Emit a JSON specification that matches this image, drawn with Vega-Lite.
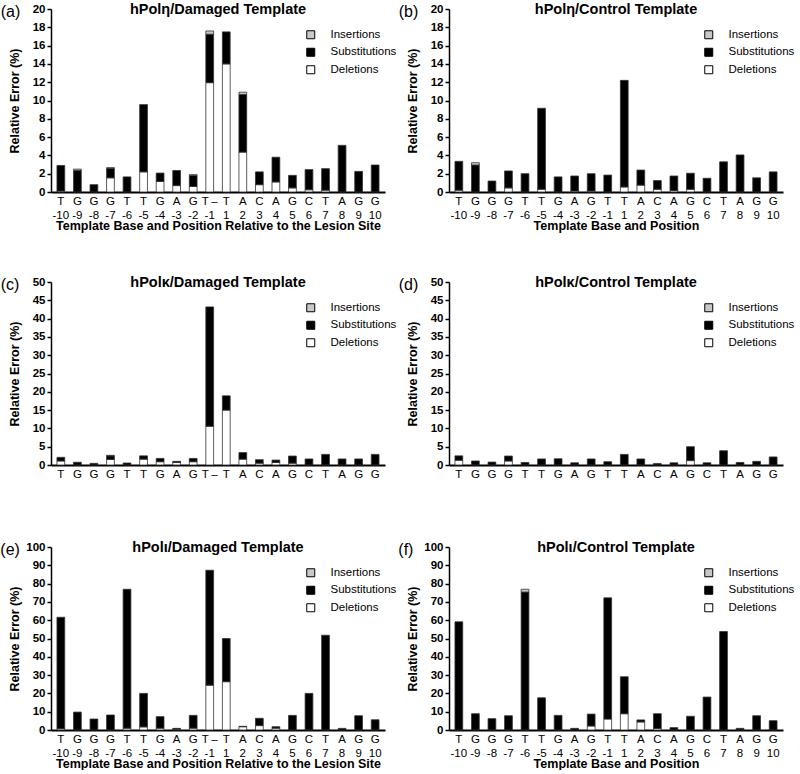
{
  "$schema": "https://vega.github.io/schema/vega-lite/v6.json",
  "padding": {"left": 0, "top": 1, "right": 0, "bottom": 0},
  "background": "white",
  "config": {
    "font": "Liberation Sans",
    "view": {"stroke": null},
    "axis": {"domainColor": "black", "tickColor": "black", "labelColor": "black", "titleColor": "black", "grid": false},
    "axisX": {"ticks": false, "domainWidth": 2, "labelAngle": 0, "labelFontSize": 11.5, "labelLineHeight": 14, "labelPadding": 3, "titleFontSize": 12.5, "titleFontWeight": "bold", "titlePadding": -1},
    "axisY": {"tickSize": 4, "tickWidth": 1.5, "domainWidth": 1.5, "labelFontSize": 11.5, "labelFontWeight": "bold", "labelPadding": 2, "titleFontSize": 12.5, "titleFontWeight": "bold"},
    "legend": {"orient": "none", "legendX": 254, "legendY": 20, "symbolType": "square", "symbolSize": 64, "symbolStrokeColor": "black", "symbolStrokeWidth": 1, "labelFontSize": 11.5, "labelColor": "black", "labelOffset": 14, "rowPadding": 4.5},
    "title": {"fontSize": 14.5, "fontWeight": "bold", "color": "black"}
  },
  "datasets": {
    "a": [
      {"site": "T -10", "Deletions": 0.1, "Substitutions": 2.8, "Insertions": 0},
      {"site": "G -9", "Deletions": 0, "Substitutions": 2.35, "Insertions": 0.15},
      {"site": "G -8", "Deletions": 0, "Substitutions": 0.8, "Insertions": 0},
      {"site": "G -7", "Deletions": 1.55, "Substitutions": 1.05, "Insertions": 0.05},
      {"site": "T -6", "Deletions": 0, "Substitutions": 1.65, "Insertions": 0},
      {"site": "T -5", "Deletions": 2.2, "Substitutions": 7.35, "Insertions": 0},
      {"site": "G -4", "Deletions": 1.15, "Substitutions": 0.92, "Insertions": 0},
      {"site": "A -3", "Deletions": 0.7, "Substitutions": 1.65, "Insertions": 0},
      {"site": "G -2", "Deletions": 0.6, "Substitutions": 1.2, "Insertions": 0.1},
      {"site": "T -1", "Deletions": 11.95, "Substitutions": 5.3, "Insertions": 0.35},
      {"site": "T 1", "Deletions": 14.0, "Substitutions": 3.5, "Insertions": 0},
      {"site": "A 2", "Deletions": 4.36, "Substitutions": 6.3, "Insertions": 0.25},
      {"site": "C 3", "Deletions": 0.8, "Substitutions": 1.4, "Insertions": 0},
      {"site": "A 4", "Deletions": 1.1, "Substitutions": 2.7, "Insertions": 0},
      {"site": "G 5", "Deletions": 0.45, "Substitutions": 1.37, "Insertions": 0},
      {"site": "C 6", "Deletions": 0.25, "Substitutions": 2.2, "Insertions": 0},
      {"site": "T 7", "Deletions": 0.2, "Substitutions": 2.35, "Insertions": 0},
      {"site": "A 8", "Deletions": 0, "Substitutions": 5.1, "Insertions": 0},
      {"site": "G 9", "Deletions": 0, "Substitutions": 2.25, "Insertions": 0},
      {"site": "G 10", "Deletions": 0, "Substitutions": 2.95, "Insertions": 0}
    ],
    "b": [
      {"site": "T -10", "Deletions": 0.2, "Substitutions": 3.15, "Insertions": 0},
      {"site": "G -9", "Deletions": 0, "Substitutions": 2.95, "Insertions": 0.25},
      {"site": "G -8", "Deletions": 0, "Substitutions": 1.2, "Insertions": 0},
      {"site": "G -7", "Deletions": 0.45, "Substitutions": 1.85, "Insertions": 0},
      {"site": "T -6", "Deletions": 0, "Substitutions": 2.0, "Insertions": 0},
      {"site": "T -5", "Deletions": 0.3, "Substitutions": 8.85, "Insertions": 0},
      {"site": "G -4", "Deletions": 0, "Substitutions": 1.65, "Insertions": 0},
      {"site": "A -3", "Deletions": 0.1, "Substitutions": 1.65, "Insertions": 0},
      {"site": "G -2", "Deletions": 0.1, "Substitutions": 1.9, "Insertions": 0},
      {"site": "T -1", "Deletions": 0, "Substitutions": 1.85, "Insertions": 0},
      {"site": "T 1", "Deletions": 0.55, "Substitutions": 11.65, "Insertions": 0},
      {"site": "A 2", "Deletions": 0.75, "Substitutions": 1.65, "Insertions": 0},
      {"site": "C 3", "Deletions": 0.3, "Substitutions": 0.95, "Insertions": 0},
      {"site": "A 4", "Deletions": 0.15, "Substitutions": 1.6, "Insertions": 0},
      {"site": "G 5", "Deletions": 0.3, "Substitutions": 1.75, "Insertions": 0},
      {"site": "C 6", "Deletions": 0, "Substitutions": 1.5, "Insertions": 0},
      {"site": "T 7", "Deletions": 0, "Substitutions": 3.3, "Insertions": 0},
      {"site": "A 8", "Deletions": 0, "Substitutions": 4.05, "Insertions": 0},
      {"site": "G 9", "Deletions": 0, "Substitutions": 1.55, "Insertions": 0},
      {"site": "G 10", "Deletions": 0, "Substitutions": 2.2, "Insertions": 0}
    ],
    "c": [
      {"site": "T -10", "Deletions": 1.1, "Substitutions": 1.0, "Insertions": 0},
      {"site": "G -9", "Deletions": 0, "Substitutions": 0.75, "Insertions": 0},
      {"site": "G -8", "Deletions": 0, "Substitutions": 0.45, "Insertions": 0},
      {"site": "G -7", "Deletions": 1.5, "Substitutions": 1.0, "Insertions": 0.15},
      {"site": "T -6", "Deletions": 0, "Substitutions": 0.55, "Insertions": 0},
      {"site": "T -5", "Deletions": 1.6, "Substitutions": 0.9, "Insertions": 0},
      {"site": "G -4", "Deletions": 0.9, "Substitutions": 0.9, "Insertions": 0},
      {"site": "A -3", "Deletions": 0.7, "Substitutions": 0.3, "Insertions": 0},
      {"site": "G -2", "Deletions": 0.9, "Substitutions": 0.9, "Insertions": 0},
      {"site": "T -1", "Deletions": 10.6, "Substitutions": 32.6, "Insertions": 0},
      {"site": "T 1", "Deletions": 15.0, "Substitutions": 3.9, "Insertions": 0},
      {"site": "A 2", "Deletions": 1.6, "Substitutions": 1.8, "Insertions": 0},
      {"site": "C 3", "Deletions": 0.5, "Substitutions": 0.95, "Insertions": 0},
      {"site": "A 4", "Deletions": 0.7, "Substitutions": 0.65, "Insertions": 0},
      {"site": "G 5", "Deletions": 0.5, "Substitutions": 1.95, "Insertions": 0},
      {"site": "C 6", "Deletions": 0, "Substitutions": 1.65, "Insertions": 0},
      {"site": "T 7", "Deletions": 0, "Substitutions": 2.9, "Insertions": 0},
      {"site": "A 8", "Deletions": 0, "Substitutions": 1.65, "Insertions": 0},
      {"site": "G 9", "Deletions": 0, "Substitutions": 1.65, "Insertions": 0},
      {"site": "G 10", "Deletions": 0, "Substitutions": 2.9, "Insertions": 0}
    ],
    "d": [
      {"site": "T -10", "Deletions": 1.3, "Substitutions": 1.2, "Insertions": 0},
      {"site": "G -9", "Deletions": 0, "Substitutions": 1.1, "Insertions": 0},
      {"site": "G -8", "Deletions": 0, "Substitutions": 0.8, "Insertions": 0},
      {"site": "G -7", "Deletions": 1.1, "Substitutions": 1.35, "Insertions": 0},
      {"site": "T -6", "Deletions": 0, "Substitutions": 0.7, "Insertions": 0},
      {"site": "T -5", "Deletions": 0, "Substitutions": 1.65, "Insertions": 0},
      {"site": "G -4", "Deletions": 0, "Substitutions": 1.7, "Insertions": 0},
      {"site": "A -3", "Deletions": 0, "Substitutions": 0.6, "Insertions": 0},
      {"site": "G -2", "Deletions": 0, "Substitutions": 1.65, "Insertions": 0},
      {"site": "T -1", "Deletions": 0, "Substitutions": 0.9, "Insertions": 0},
      {"site": "T 1", "Deletions": 0, "Substitutions": 2.9, "Insertions": 0},
      {"site": "A 2", "Deletions": 0, "Substitutions": 1.65, "Insertions": 0},
      {"site": "C 3", "Deletions": 0, "Substitutions": 0.4, "Insertions": 0},
      {"site": "A 4", "Deletions": 0, "Substitutions": 0.6, "Insertions": 0},
      {"site": "G 5", "Deletions": 1.2, "Substitutions": 3.8, "Insertions": 0},
      {"site": "C 6", "Deletions": 0, "Substitutions": 0.6, "Insertions": 0},
      {"site": "T 7", "Deletions": 0, "Substitutions": 3.9, "Insertions": 0},
      {"site": "A 8", "Deletions": 0, "Substitutions": 0.7, "Insertions": 0},
      {"site": "G 9", "Deletions": 0, "Substitutions": 1.0, "Insertions": 0},
      {"site": "G 10", "Deletions": 0, "Substitutions": 2.2, "Insertions": 0}
    ],
    "e": [
      {"site": "T -10", "Deletions": 0.7, "Substitutions": 60.9, "Insertions": 0},
      {"site": "G -9", "Deletions": 0, "Substitutions": 9.8, "Insertions": 0},
      {"site": "G -8", "Deletions": 0, "Substitutions": 6.0, "Insertions": 0},
      {"site": "G -7", "Deletions": 0, "Substitutions": 8.2, "Insertions": 0},
      {"site": "T -6", "Deletions": 1.0, "Substitutions": 75.9, "Insertions": 0},
      {"site": "T -5", "Deletions": 1.7, "Substitutions": 18.3, "Insertions": 0},
      {"site": "G -4", "Deletions": 1.0, "Substitutions": 6.3, "Insertions": 0},
      {"site": "A -3", "Deletions": 0.4, "Substitutions": 0.5, "Insertions": 0},
      {"site": "G -2", "Deletions": 1.0, "Substitutions": 7.0, "Insertions": 0},
      {"site": "T -1", "Deletions": 24.5, "Substitutions": 62.8, "Insertions": 0},
      {"site": "T 1", "Deletions": 26.4, "Substitutions": 23.6, "Insertions": 0},
      {"site": "A 2", "Deletions": 1.8, "Substitutions": 0.2, "Insertions": 0},
      {"site": "C 3", "Deletions": 2.4, "Substitutions": 4.0, "Insertions": 0},
      {"site": "A 4", "Deletions": 1.0, "Substitutions": 0.8, "Insertions": 0},
      {"site": "G 5", "Deletions": 0, "Substitutions": 8.0, "Insertions": 0},
      {"site": "C 6", "Deletions": 0, "Substitutions": 20.0, "Insertions": 0},
      {"site": "T 7", "Deletions": 0, "Substitutions": 51.8, "Insertions": 0},
      {"site": "A 8", "Deletions": 0, "Substitutions": 0.9, "Insertions": 0},
      {"site": "G 9", "Deletions": 0, "Substitutions": 7.8, "Insertions": 0},
      {"site": "G 10", "Deletions": 0, "Substitutions": 5.6, "Insertions": 0}
    ],
    "f": [
      {"site": "T -10", "Deletions": 0, "Substitutions": 59.1, "Insertions": 0},
      {"site": "G -9", "Deletions": 0, "Substitutions": 8.9, "Insertions": 0},
      {"site": "G -8", "Deletions": 0, "Substitutions": 6.2, "Insertions": 0},
      {"site": "G -7", "Deletions": 0, "Substitutions": 7.8, "Insertions": 0},
      {"site": "T -6", "Deletions": 0, "Substitutions": 75.4, "Insertions": 1.5},
      {"site": "T -5", "Deletions": 0, "Substitutions": 17.6, "Insertions": 0},
      {"site": "G -4", "Deletions": 0, "Substitutions": 8.0, "Insertions": 0},
      {"site": "A -3", "Deletions": 0, "Substitutions": 0.9, "Insertions": 0},
      {"site": "G -2", "Deletions": 2.2, "Substitutions": 6.5, "Insertions": 0},
      {"site": "T -1", "Deletions": 6.0, "Substitutions": 66.2, "Insertions": 0},
      {"site": "T 1", "Deletions": 8.9, "Substitutions": 20.2, "Insertions": 0},
      {"site": "A 2", "Deletions": 4.4, "Substitutions": 1.1, "Insertions": 0},
      {"site": "C 3", "Deletions": 0.8, "Substitutions": 8.1, "Insertions": 0},
      {"site": "A 4", "Deletions": 0, "Substitutions": 1.3, "Insertions": 0},
      {"site": "G 5", "Deletions": 0, "Substitutions": 7.5, "Insertions": 0},
      {"site": "C 6", "Deletions": 0, "Substitutions": 18.0, "Insertions": 0},
      {"site": "T 7", "Deletions": 0, "Substitutions": 53.8, "Insertions": 0},
      {"site": "A 8", "Deletions": 0, "Substitutions": 0.9, "Insertions": 0},
      {"site": "G 9", "Deletions": 0, "Substitutions": 7.8, "Insertions": 0},
      {"site": "G 10", "Deletions": 0, "Substitutions": 5.1, "Insertions": 0}
    ]
  },
  "spacing": 42,
  "resolve": {"scale": {"color": "independent"}, "legend": {"color": "independent"}},
  "vconcat": [
    {
      "spacing": 1,
      "resolve": {"scale": {"color": "independent"}, "legend": {"color": "independent"}},
      "hconcat": [
        {
          "title": {"text": "(a)", "anchor": "start", "frame": "bounds", "offset": -18, "dx": -8, "fontSize": 16, "fontWeight": "normal"},
          "resolve": {"scale": {"color": "independent"}, "legend": {"color": "independent"}},
          "vconcat": [{
            "data": {"name": "a"},
            "width": 334, "height": 183,
            "title": {"text": "hPolη/Damaged Template", "anchor": "middle", "frame": "group", "offset": -14},
            "transform": [
              {"fold": ["Deletions", "Substitutions", "Insertions"], "as": ["type", "value"]},
              {"filter": "datum.value > 0"},
              {"calculate": "indexof(['Deletions','Substitutions','Insertions'], datum.type)", "as": "ord"}
            ],
            "mark": {"type": "bar", "stroke": "#333", "strokeWidth": 0.8},
            "encoding": {
              "x": {"field": "site", "type": "nominal", "sort": null, "scale": {"paddingInner": 0.53, "paddingOuter": 0.36},
                    "axis": {"title": "Template Base and Position Relative to the Lesion Site", "labelExpr": "datum.value == 'T -1' ? ['\u2002\u2009T\u2009\u2013', '-1'] : split(datum.value, ' ')"}},
              "y": {"field": "value", "type": "quantitative", "stack": "zero", "scale": {"domain": [0, 20], "nice": false},
                    "axis": {"title": "Relative Error (%)", "titlePadding": 10.5, "values": [0, 2, 4, 6, 8, 10, 12, 14, 16, 18, 20]}},
              "color": {"field": "type", "type": "nominal", "scale": {"domain": ["Insertions", "Substitutions", "Deletions"], "range": ["#c8c8c8", "black", "white"]}, "legend": {"title": null}},
              "order": {"field": "ord", "type": "quantitative"}
            }
          }]
        },
        {
          "title": {"text": "(b)", "anchor": "start", "frame": "bounds", "offset": -18, "dx": -8, "fontSize": 16, "fontWeight": "normal"},
          "resolve": {"scale": {"color": "independent"}, "legend": {"color": "independent"}},
          "vconcat": [{
            "data": {"name": "b"},
            "width": 334, "height": 183,
            "title": {"text": "hPolη/Control Template", "anchor": "middle", "frame": "group", "offset": -14},
            "transform": [
              {"fold": ["Deletions", "Substitutions", "Insertions"], "as": ["type", "value"]},
              {"filter": "datum.value > 0"},
              {"calculate": "indexof(['Deletions','Substitutions','Insertions'], datum.type)", "as": "ord"}
            ],
            "mark": {"type": "bar", "stroke": "#333", "strokeWidth": 0.8},
            "encoding": {
              "x": {"field": "site", "type": "nominal", "sort": null, "scale": {"paddingInner": 0.53, "paddingOuter": 0.36},
                    "axis": {"title": "Template Base and Position", "labelExpr": "split(datum.value, ' ')"}},
              "y": {"field": "value", "type": "quantitative", "stack": "zero", "scale": {"domain": [0, 20], "nice": false},
                    "axis": {"title": "Relative Error (%)", "titlePadding": 10.5, "values": [0, 2, 4, 6, 8, 10, 12, 14, 16, 18, 20]}},
              "color": {"field": "type", "type": "nominal", "scale": {"domain": ["Insertions", "Substitutions", "Deletions"], "range": ["#c8c8c8", "black", "white"]}, "legend": {"title": null}},
              "order": {"field": "ord", "type": "quantitative"}
            }
          }]
        }
      ]
    },
    {
      "spacing": 59,
      "resolve": {"scale": {"color": "independent"}, "legend": {"color": "independent"}},
      "vconcat": [
        {
          "spacing": 1,
          "resolve": {"scale": {"color": "independent"}, "legend": {"color": "independent"}},
          "hconcat": [
            {
              "title": {"text": "(c)", "anchor": "start", "frame": "bounds", "offset": -18, "dx": -8, "fontSize": 16, "fontWeight": "normal"},
              "resolve": {"scale": {"color": "independent"}, "legend": {"color": "independent"}},
              "vconcat": [{
                "data": {"name": "c"},
                "width": 334, "height": 183,
                "title": {"text": "hPolκ/Damaged Template", "anchor": "middle", "frame": "group", "offset": -14},
                "transform": [
                  {"fold": ["Deletions", "Substitutions", "Insertions"], "as": ["type", "value"]},
                  {"filter": "datum.value > 0"},
                  {"calculate": "indexof(['Deletions','Substitutions','Insertions'], datum.type)", "as": "ord"}
                ],
                "mark": {"type": "bar", "stroke": "#333", "strokeWidth": 0.8},
                "encoding": {
                  "x": {"field": "site", "type": "nominal", "sort": null, "scale": {"paddingInner": 0.53, "paddingOuter": 0.36},
                        "axis": {"title": null, "labelExpr": "datum.value == 'T -1' ? '\u2002\u2009T\u2009\u2013' : split(datum.value, ' ')[0]"}},
                  "y": {"field": "value", "type": "quantitative", "stack": "zero", "scale": {"domain": [0, 50], "nice": false},
                        "axis": {"title": "Relative Error (%)", "titlePadding": 10.5, "values": [0, 5, 10, 15, 20, 25, 30, 35, 40, 45, 50]}},
                  "color": {"field": "type", "type": "nominal", "scale": {"domain": ["Insertions", "Substitutions", "Deletions"], "range": ["#c8c8c8", "black", "white"]}, "legend": {"title": null}},
                  "order": {"field": "ord", "type": "quantitative"}
                }
              }]
            },
            {
              "title": {"text": "(d)", "anchor": "start", "frame": "bounds", "offset": -18, "dx": -8, "fontSize": 16, "fontWeight": "normal"},
              "resolve": {"scale": {"color": "independent"}, "legend": {"color": "independent"}},
              "vconcat": [{
                "data": {"name": "d"},
                "width": 334, "height": 183,
                "title": {"text": "hPolκ/Control Template", "anchor": "middle", "frame": "group", "offset": -14},
                "transform": [
                  {"fold": ["Deletions", "Substitutions", "Insertions"], "as": ["type", "value"]},
                  {"filter": "datum.value > 0"},
                  {"calculate": "indexof(['Deletions','Substitutions','Insertions'], datum.type)", "as": "ord"}
                ],
                "mark": {"type": "bar", "stroke": "#333", "strokeWidth": 0.8},
                "encoding": {
                  "x": {"field": "site", "type": "nominal", "sort": null, "scale": {"paddingInner": 0.53, "paddingOuter": 0.36},
                        "axis": {"title": null, "labelExpr": "split(datum.value, ' ')[0]"}},
                  "y": {"field": "value", "type": "quantitative", "stack": "zero", "scale": {"domain": [0, 50], "nice": false},
                        "axis": {"title": "Relative Error (%)", "titlePadding": 10.5, "values": [0, 5, 10, 15, 20, 25, 30, 35, 40, 45, 50]}},
                  "color": {"field": "type", "type": "nominal", "scale": {"domain": ["Insertions", "Substitutions", "Deletions"], "range": ["#c8c8c8", "black", "white"]}, "legend": {"title": null}},
                  "order": {"field": "ord", "type": "quantitative"}
                }
              }]
            }
          ]
        },
        {
          "spacing": 1,
          "resolve": {"scale": {"color": "independent"}, "legend": {"color": "independent"}},
          "hconcat": [
            {
              "title": {"text": "(e)", "anchor": "start", "frame": "bounds", "offset": -18, "dx": -8, "fontSize": 16, "fontWeight": "normal"},
              "resolve": {"scale": {"color": "independent"}, "legend": {"color": "independent"}},
              "vconcat": [{
                "data": {"name": "e"},
                "width": 334, "height": 183,
                "title": {"text": "hPolι/Damaged Template", "anchor": "middle", "frame": "group", "offset": -14},
                "transform": [
                  {"fold": ["Deletions", "Substitutions", "Insertions"], "as": ["type", "value"]},
                  {"filter": "datum.value > 0"},
                  {"calculate": "indexof(['Deletions','Substitutions','Insertions'], datum.type)", "as": "ord"}
                ],
                "mark": {"type": "bar", "stroke": "#333", "strokeWidth": 0.8},
                "encoding": {
                  "x": {"field": "site", "type": "nominal", "sort": null, "scale": {"paddingInner": 0.53, "paddingOuter": 0.36},
                        "axis": {"title": "Template Base and Position Relative to the Lesion Site", "labelExpr": "datum.value == 'T -1' ? ['\u2002\u2009T\u2009\u2013', '-1'] : split(datum.value, ' ')"}},
                  "y": {"field": "value", "type": "quantitative", "stack": "zero", "scale": {"domain": [0, 100], "nice": false},
                        "axis": {"title": "Relative Error (%)", "titlePadding": 4.5, "values": [0, 10, 20, 30, 40, 50, 60, 70, 80, 90, 100]}},
                  "color": {"field": "type", "type": "nominal", "scale": {"domain": ["Insertions", "Substitutions", "Deletions"], "range": ["#c8c8c8", "black", "white"]}, "legend": {"title": null}},
                  "order": {"field": "ord", "type": "quantitative"}
                }
              }]
            },
            {
              "title": {"text": "(f)", "anchor": "start", "frame": "bounds", "offset": -18, "dx": -8, "fontSize": 16, "fontWeight": "normal"},
              "resolve": {"scale": {"color": "independent"}, "legend": {"color": "independent"}},
              "vconcat": [{
                "data": {"name": "f"},
                "width": 334, "height": 183,
                "title": {"text": "hPolι/Control Template", "anchor": "middle", "frame": "group", "offset": -14},
                "transform": [
                  {"fold": ["Deletions", "Substitutions", "Insertions"], "as": ["type", "value"]},
                  {"filter": "datum.value > 0"},
                  {"calculate": "indexof(['Deletions','Substitutions','Insertions'], datum.type)", "as": "ord"}
                ],
                "mark": {"type": "bar", "stroke": "#333", "strokeWidth": 0.8},
                "encoding": {
                  "x": {"field": "site", "type": "nominal", "sort": null, "scale": {"paddingInner": 0.53, "paddingOuter": 0.36},
                        "axis": {"title": "Template Base and Position", "labelExpr": "split(datum.value, ' ')"}},
                  "y": {"field": "value", "type": "quantitative", "stack": "zero", "scale": {"domain": [0, 100], "nice": false},
                        "axis": {"title": "Relative Error (%)", "titlePadding": 4.5, "values": [0, 10, 20, 30, 40, 50, 60, 70, 80, 90, 100]}},
                  "color": {"field": "type", "type": "nominal", "scale": {"domain": ["Insertions", "Substitutions", "Deletions"], "range": ["#c8c8c8", "black", "white"]}, "legend": {"title": null}},
                  "order": {"field": "ord", "type": "quantitative"}
                }
              }]
            }
          ]
        }
      ]
    }
  ]
}
